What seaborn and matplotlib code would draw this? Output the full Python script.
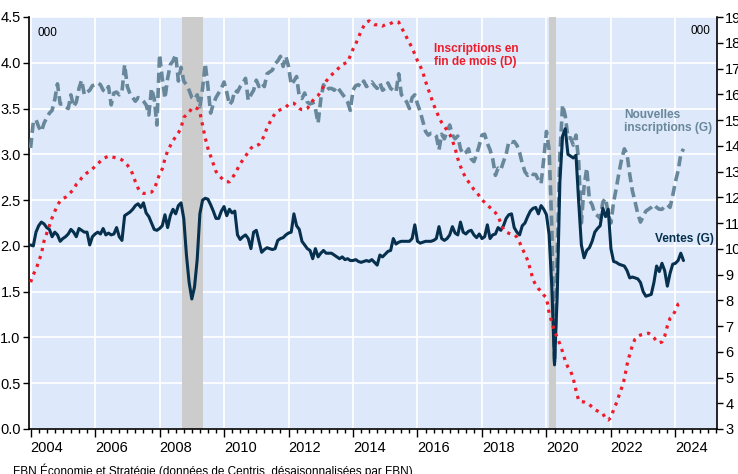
import numpy as np
import pandas as pd
import matplotlib
matplotlib.use("Agg")
import matplotlib.pyplot as plt
import seaborn as sns

# ---------------- data (thousands, monthly from Jan 2004) ----------------
start_year = 2004

ventes = [
    2.01, 2.00, 2.15, 2.22, 2.26, 2.24, 2.20, 2.18, 2.10, 2.15, 2.12, 2.05,  # 2004
    2.08, 2.10, 2.13, 2.18, 2.15, 2.10, 2.19, 2.17, 2.15, 2.15, 2.01, 2.10,  # 2005
    2.13, 2.15, 2.13, 2.19, 2.12, 2.14, 2.12, 2.13, 2.20, 2.10, 2.06, 2.33,  # 2006
    2.35, 2.37, 2.40, 2.44, 2.46, 2.42, 2.47, 2.36, 2.32, 2.25, 2.18, 2.17,  # 2007
    2.19, 2.22, 2.34, 2.20, 2.33, 2.40, 2.35, 2.44, 2.47, 2.30, 1.90, 1.60,  # 2008
    1.42, 1.55, 1.85, 2.35, 2.50, 2.52, 2.51, 2.45, 2.38, 2.30, 2.30, 2.38,  # 2009
    2.43, 2.33, 2.40, 2.36, 2.38, 2.12, 2.07, 2.10, 2.12, 2.08, 1.97, 2.15,  # 2010
    2.17, 2.05, 1.93, 1.96, 1.98, 1.97, 1.96, 1.97, 2.06, 2.08, 2.09, 2.12,  # 2011
    2.14, 2.15, 2.35, 2.22, 2.18, 2.05, 2.01, 1.97, 1.95, 1.86, 1.97, 1.88,  # 2012
    1.92, 1.95, 1.92, 1.92, 1.92, 1.90, 1.88, 1.86, 1.88, 1.85, 1.86, 1.84,  # 2013
    1.84, 1.85, 1.83, 1.82, 1.83, 1.84, 1.83, 1.85, 1.82, 1.79, 1.90, 1.88,  # 2014
    1.91, 1.94, 1.95, 2.08, 2.02, 2.04, 2.05, 2.05, 2.05, 2.05, 2.08, 2.23,  # 2015
    2.05, 2.03, 2.04, 2.05, 2.05, 2.05, 2.06, 2.08, 2.21, 2.08, 2.06, 2.08,  # 2016
    2.12, 2.21, 2.14, 2.12, 2.26, 2.15, 2.13, 2.16, 2.17, 2.12, 2.09, 2.13,  # 2017
    2.08, 2.10, 2.23, 2.08, 2.12, 2.13, 2.20, 2.17, 2.22, 2.30, 2.34, 2.35,  # 2018
    2.20, 2.15, 2.12, 2.22, 2.25, 2.32, 2.38, 2.41, 2.42, 2.35, 2.44, 2.40,  # 2019
    2.34, 2.12, 1.55, 0.70, 1.45, 2.70, 3.20, 3.28, 3.00, 2.98, 2.96, 2.99,  # 2020
    2.48, 2.01, 1.87, 1.95, 1.98, 2.05, 2.15, 2.19, 2.22, 2.41, 2.32, 2.40,  # 2021
    1.97, 1.83, 1.82, 1.80, 1.79, 1.78, 1.73, 1.65, 1.66, 1.65, 1.64, 1.60,  # 2022
    1.50, 1.45, 1.46, 1.47, 1.60, 1.78, 1.72, 1.81, 1.73, 1.56, 1.70, 1.80,  # 2023
    1.81, 1.84, 1.92, 1.84,                                                  # 2024
]

nouvelles = [
    3.07, 3.35, 3.38, 3.30, 3.25, 3.34, 3.40, 3.45, 3.48, 3.60, 3.77, 3.55,  # 2004
    3.55, 3.52, 3.50, 3.65, 3.52, 3.57, 3.72, 3.81, 3.65, 3.68, 3.70, 3.75,  # 2005
    3.76, 3.78, 3.76, 3.70, 3.68, 3.74, 3.54, 3.67, 3.68, 3.65, 3.68, 3.98,  # 2006
    3.74, 3.66, 3.62, 3.58, 3.62, 3.61, 3.58, 3.54, 3.43, 3.72, 3.61, 3.32,  # 2007
    4.09, 3.83, 3.61, 3.83, 3.98, 4.02, 4.09, 3.80, 3.95, 3.80, 3.76, 3.70,  # 2008
    3.62, 3.60, 3.65, 3.52, 3.72, 3.99, 3.74, 3.45, 3.55, 3.62, 3.67, 3.72,  # 2009
    3.79, 3.68, 3.54, 3.58, 3.70, 3.68, 3.74, 3.78, 3.83, 3.59, 3.65, 3.70,  # 2010
    3.81, 3.74, 3.78, 3.74, 3.88, 3.90, 3.92, 3.99, 4.02, 4.07, 3.96, 4.07,  # 2011
    3.96, 3.76, 3.80, 3.85, 3.63, 3.61, 3.67, 3.57, 3.55, 3.57, 3.50, 3.34,  # 2012
    3.60, 3.76, 3.70, 3.72, 3.72, 3.70, 3.74, 3.70, 3.66, 3.62, 3.57, 3.48,  # 2013
    3.70, 3.75, 3.76, 3.74, 3.80, 3.74, 3.76, 3.79, 3.75, 3.72, 3.78, 3.70,  # 2014
    3.72, 3.78, 3.72, 3.70, 3.68, 3.88, 3.65, 3.62, 3.57, 3.50, 3.62, 3.65,  # 2015
    3.55, 3.47, 3.36, 3.25, 3.21, 3.23, 3.23, 3.20, 3.05, 3.22, 3.17, 3.25,  # 2016
    3.32, 3.21, 3.17, 3.20, 3.06, 3.00, 3.02, 3.06, 2.95, 2.92, 3.00, 3.10,  # 2017
    3.21, 3.22, 3.12, 3.05, 2.95, 2.77, 2.85, 2.83, 2.92, 3.00, 3.14, 3.13,  # 2018
    3.14, 3.10, 3.02, 2.90, 2.81, 2.77, 2.80, 2.78, 2.78, 2.72, 2.68, 2.95,  # 2019
    3.25, 3.05, 2.20, 0.72, 1.90, 3.00, 3.54, 3.42, 3.18, 3.18, 3.10, 3.21,  # 2020
    2.92, 2.25, 2.65, 2.85, 2.50, 2.45, 2.35, 2.33, 2.30, 2.48, 2.52, 2.35,  # 2021
    2.25, 2.48, 2.63, 2.80, 2.95, 3.06, 3.00, 2.78, 2.60, 2.48, 2.35, 2.26,  # 2022
    2.32, 2.38, 2.40, 2.42, 2.45, 2.42, 2.40, 2.40, 2.43, 2.45, 2.42, 2.55,  # 2023
    2.70, 2.82, 3.00, 3.06,                                                  # 2024
]

inscriptions = [
    8.70, 9.00, 9.20, 9.50, 9.80, 10.3, 10.6, 10.9, 11.2, 11.45, 11.7, 11.85,   # 2004
    11.95, 12.0, 12.1, 12.2, 12.3, 12.5, 12.6, 12.75, 12.85, 12.95, 13.0, 13.1,  # 2005
    13.2, 13.3, 13.4, 13.5, 13.55, 13.6, 13.57, 13.55, 13.52, 13.5, 13.45, 13.35,  # 2006
    13.25, 13.1, 12.9, 12.6, 12.35, 12.2, 12.15, 12.15, 12.2, 12.2, 12.3, 12.6,  # 2007
    12.9, 13.1, 13.5, 13.8, 14.0, 14.2, 14.35, 14.5, 14.7, 15.1, 15.2, 15.3,    # 2008
    15.45, 15.5, 15.45, 15.3, 14.8, 14.3, 13.9, 13.6, 13.3, 13.0, 12.85, 12.75,  # 2009
    12.65, 12.6, 12.6, 12.75, 12.9, 13.1, 13.3, 13.45, 13.6, 13.75, 13.9, 14.0,  # 2010
    14.0, 14.05, 14.2, 14.4, 14.7, 14.9, 15.1, 15.25, 15.35, 15.4, 15.45, 15.5,  # 2011
    15.6, 15.65, 15.65, 15.55, 15.45, 15.4, 15.4, 15.45, 15.6, 15.75, 15.85, 15.95,  # 2012
    16.1, 16.3, 16.5, 16.65, 16.75, 16.85, 16.95, 17.05, 17.15, 17.2, 17.25, 17.5,  # 2013
    17.75, 17.95, 18.2, 18.45, 18.65, 18.8, 18.85, 18.75, 18.7, 18.7, 18.7, 18.65,  # 2014
    18.7, 18.7, 18.75, 18.8, 18.82, 18.8, 18.6, 18.4, 18.2, 18.0, 17.8, 17.55,  # 2015
    17.3, 17.1, 16.85, 16.5, 16.2, 15.9, 15.6, 15.35, 15.1, 14.9, 14.75, 14.6,  # 2016
    14.45, 14.2, 13.9, 13.5, 13.2, 12.95, 12.75, 12.6, 12.45, 12.3, 12.2, 12.05,  # 2017
    11.9, 11.8, 11.7, 11.6, 11.5, 11.4, 11.25, 11.0, 10.75, 10.65, 10.6, 10.57,  # 2018
    10.55, 10.45, 10.25, 10.0, 9.8, 9.55, 9.2, 8.8, 8.6, 8.45, 8.35, 8.2,      # 2019
    8.1, 7.5, 7.15, 6.8, 6.55, 6.3, 6.0, 5.65, 5.4, 5.25, 4.95, 4.5,          # 2020
    4.1, 4.06, 4.05, 4.0, 3.95, 3.85, 3.75, 3.7, 3.65, 3.6, 3.4, 3.35,        # 2021
    3.45, 3.75, 4.0, 4.3, 4.6, 4.95, 5.5, 5.9, 6.25, 6.5, 6.6, 6.65,          # 2022
    6.67, 6.7, 6.72, 6.65, 6.55, 6.4, 6.35, 6.38, 6.6, 7.0, 7.3, 7.4,         # 2023
    7.6, 7.85, 7.9,                                                          # 2024
]

recessions = [(2008.70, 2009.35), (2020.08, 2020.29)]
year_labels = list(range(2004, 2025, 2))
left_ticks = [0.0, 0.5, 1.0, 1.5, 2.0, 2.5, 3.0, 3.5, 4.0, 4.5]
right_ticks = list(range(3, 20))


def monthly(values):
    return pd.DataFrame({"date": start_year + np.arange(len(values)) / 12.0,
                         "value": values})


df_v = monthly(ventes)
df_n = monthly(nouvelles)
df_i = monthly(inscriptions)

# ---------------- styling ----------------
BG = "#dde9fb"
NAVY = "#06304d"
GREY = "#68879a"
RED = "#ee1c2a"

sns.set_theme(style="white")
plt.rcParams["font.family"] = ["Liberation Sans", "DejaVu Sans"]

fig = plt.figure(figsize=(7.38, 4.74), dpi=100)
ax = fig.add_axes([29 / 738, 45 / 474, 688 / 738, 412 / 474])
ax.set_facecolor(BG)
ax2 = ax.twinx()
ax2.patch.set_visible(False)

for a, b in recessions:
    ax.axvspan(a, b, color="#cccccc", lw=0, zorder=1)

sns.lineplot(data=df_n, x="date", y="value", ax=ax, color=GREY, linewidth=2.6,
             linestyle=(0, (2.8, 1.4)), zorder=3, legend=False)
sns.lineplot(data=df_v, x="date", y="value", ax=ax, color=NAVY, linewidth=2.2,
             zorder=4, legend=False)
sns.lineplot(data=df_i, x="date", y="value", ax=ax2, color=RED, linewidth=2.3,
             linestyle=(0, (1.0, 1.6)), zorder=5, legend=False)

ax.set_xlim(2003.95, 2025.29)
ax.set_ylim(0, 4.5)
ax2.set_ylim(3, 19)
ax.set_xlabel("")
ax.set_ylabel("")
ax2.set_ylabel("")

# ticks
ax.set_xticks(year_labels)
ax.set_xticklabels([])
ax.set_xticks(np.arange(2004, 2025.3, 0.25), minor=True)
ax.set_yticks(left_ticks)
ax.set_yticklabels([f"{t:.1f}" for t in left_ticks])
ax2.set_yticks(right_ticks)
ax2.set_yticklabels([str(t) for t in right_ticks])

ax.tick_params(axis="x", which="major", direction="out", length=6, width=1,
               color="black", bottom=True)
ax.tick_params(axis="x", which="minor", direction="out", length=3, width=1,
               color="black", bottom=True)
ax.tick_params(axis="y", which="major", direction="out", length=4, width=1,
               color="black", left=True, labelsize=10.5, pad=2, labelcolor="black")
ax2.tick_params(axis="y", which="major", direction="out", length=4, width=1,
                color="black", right=True, labelsize=10.5, pad=2, labelcolor="black")

# grid
ax.set_axisbelow(True)
ax.grid(True, which="major", axis="both", color="white", linewidth=1.2, zorder=0)
ax2.grid(False)

for name, sp in ax.spines.items():
    sp.set_visible(name in ("left", "bottom"))
    sp.set_color("black")
    sp.set_linewidth(1.2)
for name, sp in ax2.spines.items():
    sp.set_visible(name == "right")
    sp.set_color("black")
    sp.set_linewidth(1.2)

# year labels centred on each labelled year
xt = ax.get_xaxis_transform()
for yr in year_labels:
    ax.text(yr + 0.5, -0.028, str(yr), transform=xt, ha="center", va="top",
            fontsize=10.5, color="black")

# unit labels
ax.text(0.013, 0.975, "000", transform=ax.transAxes, ha="left", va="top",
        fontsize=8.5, color="black")
ax.text(0.99, 0.98, "000", transform=ax.transAxes, ha="right", va="top",
        fontsize=8.5, color="black")

# series annotations (pixel positions converted to axes fractions)
def axfrac(px, py):
    return ((px - 29) / 688, (429 - py) / 412)

x0, y0 = axfrac(434, 43)
ax.text(x0, y0, "Inscriptions en\nfin de mois (D)", transform=ax.transAxes,
        ha="left", va="top", fontsize=8.6, fontweight="bold", color=RED,
        linespacing=1.15)
x0, y0 = axfrac(624, 109)
ax.text(x0, y0, "Nouvelles\ninscriptions (G)", transform=ax.transAxes,
        ha="left", va="top", fontsize=8.6, fontweight="bold", color=GREY,
        linespacing=1.15)
x0, y0 = axfrac(655, 233)
ax.text(x0, y0, "Ventes (G)", transform=ax.transAxes,
        ha="left", va="top", fontsize=8.6, fontweight="bold", color=NAVY)

fig.text(13 / 738, 1 - 463 / 474,
         "FBN Économie et Stratégie (données de Centris, désaisonnalisées par FBN)",
         ha="left", va="top", fontsize=8.5, color="black")

fig.savefig("out.png", dpi=100, facecolor="white")
